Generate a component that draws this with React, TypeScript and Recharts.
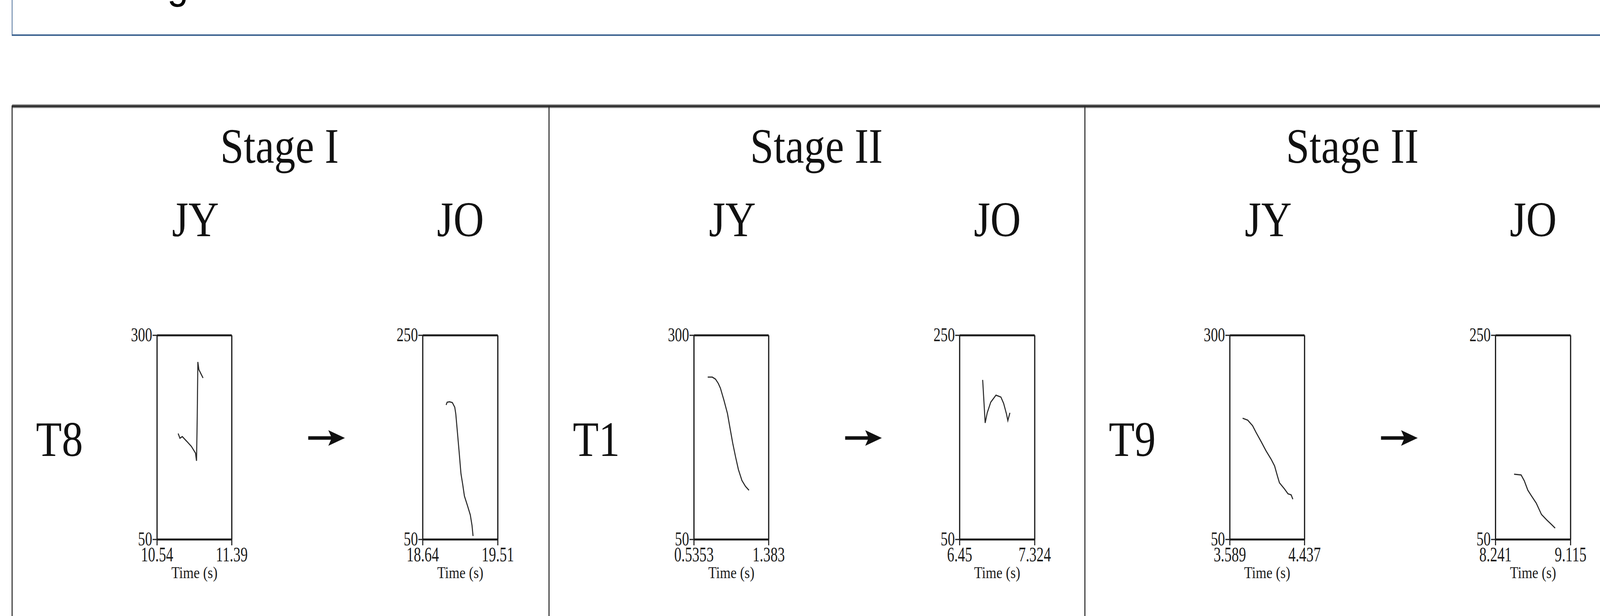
import React from "react";
import { LineChart, Line, XAxis, YAxis, Label } from "recharts";

// ---------- text content ----------
const stageLabels = ["Stage I", "Stage II", "Stage II"];
const toneLabels = ["T8", "T1", "T9"];
const speakerLabels = ["JY", "JO"];
const axisTitle = "Time (s)";
const figureCaption = "Figure";

// ---------- tick values ----------
const jyYTicks = [50, 300];
const joYTicks = [50, 250];
const t8JyXTicks = [10.54, 11.39];
const t8JoXTicks = [18.64, 19.51];
const t1JyXTicks = [0.5353, 1.383];
const t1JoXTicks = [6.45, 7.324];
const t9JyXTicks = [3.589, 4.437];
const t9JoXTicks = [8.241, 9.115];

// ---------- pitch contours (time s, F0 Hz) ----------
const t8JyTime = [10.78, 10.8, 10.827, 10.878, 10.93, 10.977, 10.989, 10.997, 11.004, 11.016, 11.063];
const t8JyF0 = [179.8, 174.0, 176.0, 170.2, 164.0, 155.8, 146.3, 200.0, 267.4, 257.9, 247.8];

const t8JoTime = [18.911, 18.923, 18.951, 18.983, 19.011, 19.023, 19.039, 19.059, 19.083, 19.103, 19.123, 19.159, 19.191, 19.211, 19.223];
const t8JoF0 = [181.8, 184.5, 184.9, 184.1, 179.5, 173.0, 157.7, 138.5, 114.4, 104.0, 92.5, 83.0, 74.1, 63.8, 53.4];

const t1JyTime = [0.6913, 0.7433, 0.7793, 0.8113, 0.8353, 0.8753, 0.9153, 0.9433, 0.9753, 1.0073, 1.0393, 1.0793, 1.1193, 1.1593];
const t1JyF0 = [248.8, 248.8, 246.4, 241.1, 235.3, 220.5, 204.2, 187.0, 167.8, 151.1, 135.7, 122.3, 115.1, 110.3];

const t1JoTime = [6.718, 6.747, 6.771, 6.812, 6.873, 6.93, 6.962, 6.995, 7.011, 7.035];
const t1JoF0 = [206.3, 164.2, 174.1, 184.5, 191.4, 189.5, 183.3, 173.0, 166.5, 174.1];

const t9JyTime = [3.734, 3.792, 3.847, 3.886, 3.945, 3.999, 4.058, 4.097, 4.132, 4.152, 4.21, 4.249, 4.285, 4.304];
const t9JyF0 = [198.5, 196.1, 189.4, 181.2, 169.7, 158.7, 148.2, 140.0, 126.6, 119.4, 111.8, 106.0, 104.6, 99.3];

const t9JoTime = [8.457, 8.539, 8.576, 8.617, 8.658, 8.715, 8.776, 8.837, 8.894, 8.935];
const t9JoF0 = [114.0, 113.2, 107.5, 98.3, 92.9, 85.6, 74.5, 69.2, 64.6, 61.1];

// ---------- layout ----------
const W = 4625;
const H = 1578;
const COL_LEFTS = [35, 1587, 3136];
const BOX_TOP = 859;
const BOX_H = 523;
const JY_OFF = 419;
const JY_W = 216;
const JO_OFF = 1187;
const JO_W = 217;
const ML = 110;
const MR = 80;
const MT = 40;
const MB = 140;
const SERIF = "'Liberation Serif', 'Times New Roman', serif";
const INK = "#1c1c1c";

function XTick(props: any) {
  const { x, y, payload } = props;
  return (
    <g transform={`translate(${x},${y})`}>
      <text x={0} y={0} dy={39} textAnchor="middle" transform="scale(0.8,1)" fontFamily={SERIF} fontSize={52} fill={INK}>
        {String(payload.value)}
      </text>
    </g>
  );
}

function YTick(props: any) {
  const { x, y, payload } = props;
  return (
    <g transform={`translate(${x + 1},${y})`}>
      <text x={0} y={0} dy={15} textAnchor="end" transform="scale(0.82,1)" fontFamily={SERIF} fontSize={50} fill={INK}>
        {String(payload.value)}
      </text>
    </g>
  );
}

function TimeLabel(props: any) {
  const vb = props.viewBox || {};
  const cx = (vb.x || 0) + (vb.width || 0) / 2;
  const by = (vb.y || 0) + 99;
  return (
    <g transform={`translate(${cx},${by})`}>
      <text x={0} y={0} textAnchor="middle" transform="scale(0.94,1)" fontFamily={SERIF} fontSize={42} fill={INK}>
        {axisTitle}
      </text>
    </g>
  );
}

type PanelProps = {
  left: number;
  width: number;
  times: number[];
  f0s: number[];
  xTicks: number[];
  yTicks: number[];
};

function Panel({ left, width, times, f0s, xTicks, yTicks }: PanelProps) {
  const data = times.map((t, i) => ({ t, f0: f0s[i] }));
  const xDom: [number, number] = [xTicks[0], xTicks[xTicks.length - 1]];
  const yDom: [number, number] = [yTicks[0], yTicks[yTicks.length - 1]];
  return (
    <div style={{ position: "absolute", left: left - ML, top: BOX_TOP - MT }}>
      <LineChart
        width={width + ML + MR}
        height={BOX_H + MT + MB}
        data={data}
        margin={{ top: MT - 1, right: MR - 1, bottom: MB - 1, left: ML - 1 }}
      >
        <XAxis
          dataKey="t"
          type="number"
          domain={xDom}
          ticks={xTicks}
          interval={0}
          height={1}
          tickSize={15}
          tickLine={{ stroke: INK, strokeWidth: 3 }}
          axisLine={{ stroke: INK, strokeWidth: 5 }}
          tick={<XTick />}
        >
          <Label content={TimeLabel} />
        </XAxis>
        <XAxis
          xAxisId="top"
          orientation="top"
          type="number"
          domain={xDom}
          ticks={xTicks}
          height={1}
          tick={false}
          tickLine={false}
          axisLine={{ stroke: INK, strokeWidth: 5 }}
        />
        <YAxis
          type="number"
          domain={yDom}
          ticks={yTicks}
          interval={0}
          width={1}
          tickSize={13}
          tickLine={{ stroke: INK, strokeWidth: 3 }}
          axisLine={{ stroke: INK, strokeWidth: 3.5 }}
          tick={<YTick />}
        />
        <YAxis
          yAxisId="right"
          orientation="right"
          type="number"
          domain={yDom}
          ticks={yTicks}
          width={1}
          tick={false}
          tickLine={false}
          axisLine={{ stroke: INK, strokeWidth: 3.5 }}
        />
        <Line
          dataKey="f0"
          type="linear"
          stroke="#2a2a2a"
          strokeWidth={3}
          dot={false}
          activeDot={false}
          isAnimationActive={false}
        />
      </LineChart>
    </div>
  );
}

const panels = [
  { jy: { times: t8JyTime, f0s: t8JyF0, xTicks: t8JyXTicks }, jo: { times: t8JoTime, f0s: t8JoF0, xTicks: t8JoXTicks } },
  { jy: { times: t1JyTime, f0s: t1JyF0, xTicks: t1JyXTicks }, jo: { times: t1JoTime, f0s: t1JoF0, xTicks: t1JoXTicks } },
  { jy: { times: t9JyTime, f0s: t9JyF0, xTicks: t9JyXTicks }, jo: { times: t9JoTime, f0s: t9JoF0, xTicks: t9JoXTicks } },
];

function BigText({ cx, y, anchor, children }: any) {
  return (
    <g transform={`translate(${cx},${y})`}>
      <text x={0} y={0} textAnchor={anchor || "middle"} transform="scale(0.955,1)" fontFamily={SERIF} fontSize={128} fill="#111">
        {children}
      </text>
    </g>
  );
}

export default function App() {
  // The browser viewport may be narrower than the 4625px design; fit the full width into it.
  const vw = typeof window !== "undefined" && window.innerWidth > 0 ? window.innerWidth : W;
  const sx = Math.min(1, vw / W);
  return (
    <div style={{ position: "absolute", left: 0, top: 0, width: Math.round(W * sx), height: H, overflow: "hidden", background: "#fff" }}>
      <div
        style={{
          position: "absolute",
          left: 0,
          top: 0,
          width: W,
          height: H,
          background: "#fff",
          transform: `scale(${sx}, 1)`,
          transformOrigin: "0 0",
        }}
      >
        <svg width={W} height={H} style={{ position: "absolute", left: 0, top: 0 }}>
          {/* caption box (cut off at top) */}
          <text x={392} y={-5} fontFamily="'Liberation Sans', Arial, sans-serif" fontSize={110} fill="#000">
            {figureCaption}
          </text>
          <line x1={35} x2={35} y1={0} y2={90} stroke="#3f6592" strokeWidth={2} />
          <line x1={34} x2={W} y1={90} y2={90} stroke="#3f6592" strokeWidth={4} />

          {/* table frame */}
          <line x1={35} x2={W} y1={272} y2={272} stroke="#9a9a9a" strokeWidth={10} />
          <line x1={35} x2={W} y1={272} y2={272} stroke="#2e2e2e" strokeWidth={5} />
          {COL_LEFTS.map((x) => (
            <line key={x} x1={x} x2={x} y1={270} y2={H} stroke="#2a2a2a" strokeWidth={3} />
          ))}

          {COL_LEFTS.map((L, i) => (
            <g key={`c${i}`}>
              <BigText cx={L + 773} y={417}>{stageLabels[i]}</BigText>
              <BigText cx={L + 530} y={605}>{speakerLabels[0]}</BigText>
              <BigText cx={L + 1296} y={605}>{speakerLabels[1]}</BigText>
              <BigText cx={L + 69} y={1168} anchor="start">{toneLabels[i]}</BigText>
              <line x1={L + 856} x2={L + 925} y1={1122} y2={1122} stroke="#111" strokeWidth={9} />
              <path
                d={`M ${L + 962} 1122 L ${L + 914} 1102 L ${L + 924} 1122 L ${L + 914} 1142 Z`}
                fill="#111"
              />
            </g>
          ))}
        </svg>

        {COL_LEFTS.map((L, i) => (
          <React.Fragment key={`p${i}`}>
            <Panel left={L + JY_OFF} width={JY_W} yTicks={jyYTicks} {...panels[i].jy} />
            <Panel left={L + JO_OFF} width={JO_W} yTicks={joYTicks} {...panels[i].jo} />
          </React.Fragment>
        ))}
      </div>
    </div>
  );
}
